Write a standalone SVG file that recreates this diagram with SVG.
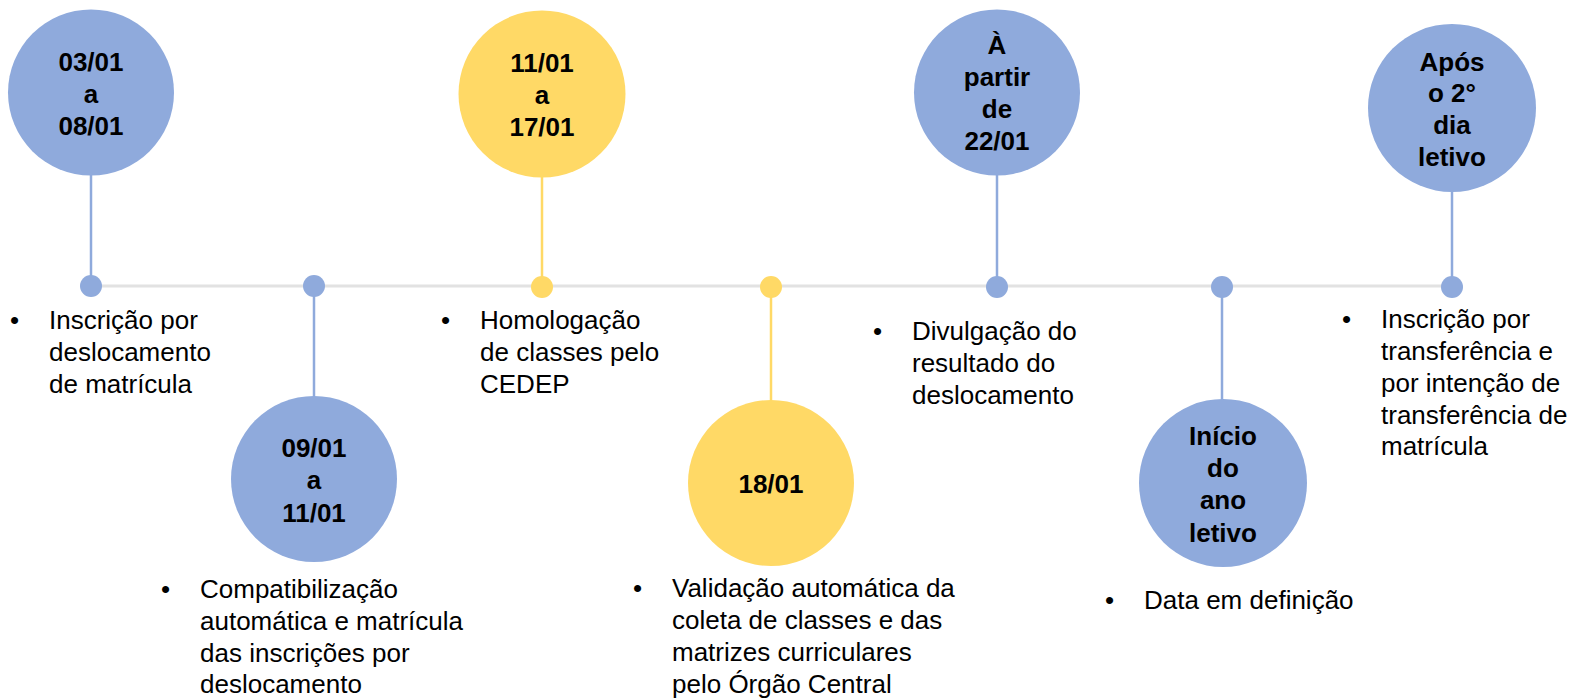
<svg xmlns="http://www.w3.org/2000/svg" width="1574" height="699" viewBox="0 0 1574 699">
<style>
.blue{fill:#8faadc}
.yellow{fill:#ffd966}
.vb{stroke:#8faadc;stroke-width:2.5;fill:none}
.vy{stroke:#ffd966;stroke-width:2.5;fill:none}
.tl{stroke:#e2e2e2;stroke-width:3;fill:none}
.d{font-family:"Liberation Sans",Arial,sans-serif;font-size:26px;font-weight:bold;fill:#000;text-anchor:middle}
.b{font-family:"Liberation Sans",Arial,sans-serif;font-size:26px;fill:#000}
</style>
<rect width="1574" height="699" fill="#fff"/>
<g id="connectors">
<line class="tl" x1="91" y1="286" x2="1452" y2="286"/>
<line class="vb" x1="91" y1="175" x2="91" y2="286"/>
<line class="vb" x1="314" y1="286" x2="314" y2="397"/>
<line class="vy" x1="542" y1="176" x2="542" y2="286"/>
<line class="vy" x1="771" y1="286" x2="771" y2="401"/>
<line class="vb" x1="997" y1="175" x2="997" y2="286"/>
<line class="vb" x1="1222" y1="286" x2="1222" y2="401"/>
<line class="vb" x1="1452" y1="191" x2="1452" y2="286"/>
</g>
<g id="node1">
<circle class="blue" cx="91" cy="92.5" r="83"/>
<text class="d" x="91" y="71">03/01</text>
<text class="d" x="91" y="103">a</text>
<text class="d" x="91" y="135">08/01</text>
<circle class="blue" cx="91" cy="286" r="11"/>
<text class="b" x="10" y="329">•</text>
<text class="b" x="49" y="329">Inscrição por</text>
<text class="b" x="49" y="361">deslocamento</text>
<text class="b" x="49" y="393">de matrícula</text>
</g>
<g id="node2">
<circle class="blue" cx="314" cy="479" r="83"/>
<text class="d" x="314" y="457">09/01</text>
<text class="d" x="314" y="489">a</text>
<text class="d" x="314" y="522">11/01</text>
<circle class="blue" cx="314" cy="286" r="11"/>
<text class="b" x="161" y="598">•</text>
<text class="b" x="200" y="598">Compatibilização</text>
<text class="b" x="200" y="630">automática e matrícula</text>
<text class="b" x="200" y="662">das inscrições por</text>
<text class="b" x="200" y="693">deslocamento</text>
</g>
<g id="node3">
<circle class="yellow" cx="542" cy="94" r="83.5"/>
<text class="d" x="542" y="72">11/01</text>
<text class="d" x="542" y="104">a</text>
<text class="d" x="542" y="136">17/01</text>
<circle class="yellow" cx="542" cy="287" r="11"/>
<text class="b" x="441" y="329">•</text>
<text class="b" x="480" y="329">Homologação</text>
<text class="b" x="480" y="361">de classes pelo</text>
<text class="b" x="480" y="393">CEDEP</text>
</g>
<g id="node4">
<circle class="yellow" cx="771" cy="483" r="83"/>
<text class="d" x="771" y="493">18/01</text>
<circle class="yellow" cx="771" cy="287" r="11"/>
<text class="b" x="633" y="597">•</text>
<text class="b" x="672" y="597">Validação automática da</text>
<text class="b" x="672" y="629">coleta de classes e das</text>
<text class="b" x="672" y="661">matrizes curriculares</text>
<text class="b" x="672" y="693">pelo Órgão Central</text>
</g>
<g id="node5">
<circle class="blue" cx="997" cy="92.5" r="83"/>
<text class="d" x="997" y="54">À</text>
<text class="d" x="997" y="86">partir</text>
<text class="d" x="997" y="118">de</text>
<text class="d" x="997" y="150">22/01</text>
<circle class="blue" cx="997" cy="287" r="11"/>
<text class="b" x="873" y="340">•</text>
<text class="b" x="912" y="340">Divulgação do</text>
<text class="b" x="912" y="372">resultado do</text>
<text class="b" x="912" y="404">deslocamento</text>
</g>
<g id="node6">
<circle class="blue" cx="1223" cy="483" r="84"/>
<text class="d" x="1223" y="445">Início</text>
<text class="d" x="1223" y="477">do</text>
<text class="d" x="1223" y="509">ano</text>
<text class="d" x="1223" y="542">letivo</text>
<circle class="blue" cx="1222" cy="287" r="11"/>
<text class="b" x="1105" y="609">•</text>
<text class="b" x="1144" y="609">Data em definição</text>
</g>
<g id="node7">
<circle class="blue" cx="1452" cy="108" r="84"/>
<text class="d" x="1452" y="71">Após</text>
<text class="d" x="1452" y="102">o 2°</text>
<text class="d" x="1452" y="134">dia</text>
<text class="d" x="1452" y="166">letivo</text>
<circle class="blue" cx="1452" cy="287" r="11"/>
<text class="b" x="1342" y="328">•</text>
<text class="b" x="1381" y="328">Inscrição por</text>
<text class="b" x="1381" y="360">transferência e</text>
<text class="b" x="1381" y="392">por intenção de</text>
<text class="b" x="1381" y="424">transferência de</text>
<text class="b" x="1381" y="455">matrícula</text>
</g>
</svg>
